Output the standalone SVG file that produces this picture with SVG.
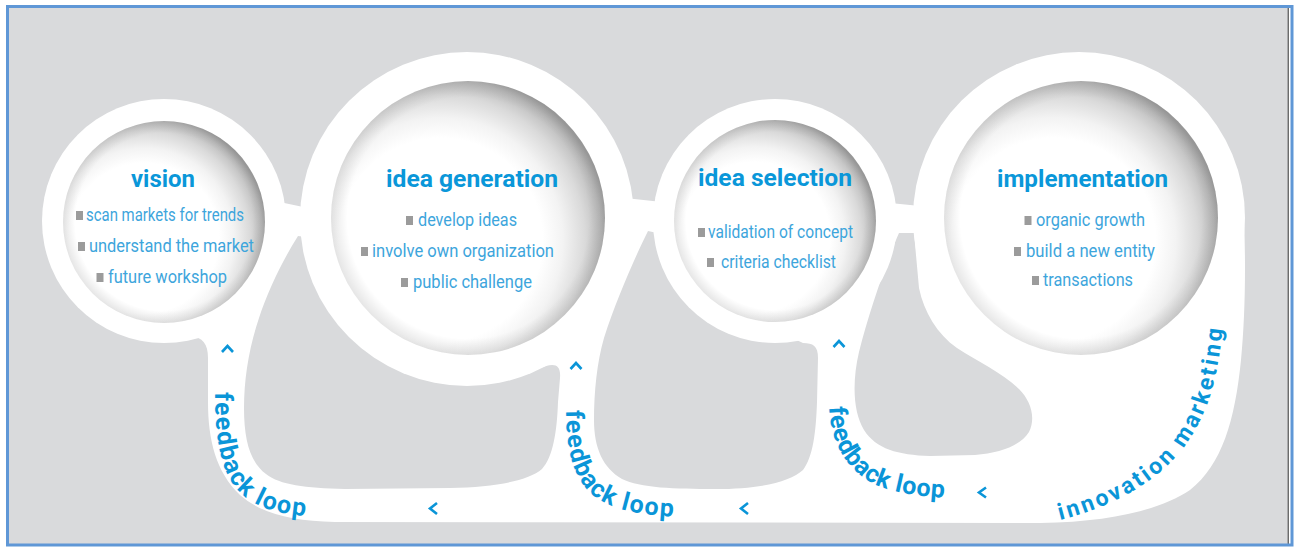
<svg xmlns="http://www.w3.org/2000/svg" width="1298" height="552" viewBox="0 0 1298 552">
<style>
.title{font-family:Roboto,'Liberation Sans',sans-serif;font-weight:700;font-size:23px;fill:#0a97d9;text-anchor:middle}
.item{font-family:Roboto,'Liberation Sans',sans-serif;font-size:19px;fill:#3da5dc}
.sq{fill:#9b9b9b}
.loop{font-family:Roboto,'Liberation Sans',sans-serif;font-weight:700;font-size:25px;letter-spacing:1.5px;fill:#0a95d8}
.chev{fill:none;stroke:#0a95d8;stroke-width:2.6;stroke-linejoin:miter}
.hole{fill:#d9dadc}
.white{fill:#ffffff}
.sphere{fill:url(#sph)}
.rim{fill:url(#rim)}
</style>
<defs>
<radialGradient id="sph" cx="0.4" cy="0.58" r="0.62">
<stop offset="0" stop-color="#ffffff"/>
<stop offset="0.6" stop-color="#ffffff"/>
<stop offset="0.72" stop-color="#f3f3f3"/>
<stop offset="0.85" stop-color="#dadada"/>
<stop offset="0.95" stop-color="#bdbdbd"/>
<stop offset="1" stop-color="#a6a6a6"/>
</radialGradient>
<radialGradient id="rim" cx="0.5" cy="0.5" r="0.5">
<stop offset="0.88" stop-color="#000" stop-opacity="0"/>
<stop offset="1" stop-color="#000" stop-opacity="0.1"/>
</radialGradient>
<path id="p1" d="M 215,392 C 215,446 222,478 245,497 C 262,510 285,516 330,518"/>
<path id="p2" d="M 566,410 C 566,455 575,485 600,500 C 620,512 645,516 695,518"/>
<path id="p3" d="M 829,407 C 830,440 845,468 872,483 C 890,492 915,497 965,499"/>
<path id="p4" d="M 1060,520 C 1120,505 1170,475 1195,430 C 1212,400 1220,370 1225,300"/>
</defs>
<rect x="0" y="0" width="1298" height="552" fill="#ffffff"/>
<rect x="8" y="8" width="1281" height="536" fill="#d9dadc"/>
<line x1="1288.2" y1="8" x2="1288.2" y2="544" stroke="#3a3a3a" stroke-width="1"/>
<rect x="7.5" y="6.5" width="1284.5" height="538.5" fill="none" stroke="#5f97d6" stroke-width="3"/>

<g id="connectors">
<path class="white" d="M 190,336 C 203,337 208,344 208,358 L 208,402 C 208,440 216,472 240,495 C 262,514 292,521 335,522 L 1040,523 C 1110,522 1160,510 1190,490 C 1222,465 1235,420 1241,360 C 1245,320 1246,270 1244,218 L 1079,218 L 164,221 Z"/>
<path class="hole" d="M 298,236 C 284,258 268,290 259,318 C 249,348 244,378 244,408 C 244,440 250,462 266,474 C 280,485 305,488 345,489 L 450,488 C 495,487 528,481 542,469 C 553,457 557,432 558,402 L 560,378 C 561,366 556,363 546,366 C 530,371 512,377 497,382 L 467,300 L 330,240 Z"/>
<path class="hole" d="M 648,231 C 636,255 616,300 604,338 C 597,362 594,392 594,420 C 594,448 603,468 622,479 C 640,488 675,489 715,489 C 760,489 790,482 803,470 C 813,457 816,432 817,402 L 818,358 C 818,346 813,343 803,343 L 775,330 L 690,240 Z"/>
<path class="hole" d="M 899,233 C 887,260 869,312 859,352 C 852,382 853,412 864,430 C 876,449 898,455 930,456 L 975,455 C 1000,453 1020,446 1029,432 C 1036,418 1031,401 1019,389 C 1003,373 978,362 957,348 C 937,334 924,312 919,288 L 914,233 Z"/>
<polygon class="white" points="270,200 308,208 308,234 270,240"/>
<polygon class="white" points="625,198 662,202 662,229 625,232"/>
<polygon class="white" points="890,203 920,206 920,231 890,233"/>
<text class="loop"><textPath href="#p1">feedback loop</textPath></text>
<text class="loop"><textPath href="#p2">feedback loop</textPath></text>
<text class="loop" style="letter-spacing:0.6px"><textPath href="#p3">feedback loop</textPath></text>
<text class="loop" style="font-size:23px;letter-spacing:2.8px"><textPath href="#p4">innovation marketing</textPath></text>
<path class="chev" d="M222,352 L227.5,346 L233,352"/>
<path class="chev" d="M570.5,369 L576,363 L581.5,369"/>
<path class="chev" d="M833.5,347 L839,341 L844.5,347"/>
<path class="chev" d="M437,503 L430,508.5 L437,514"/>
<path class="chev" d="M748,503 L741,508.5 L748,514"/>
<path class="chev" d="M986,487.5 L979,492.5 L986,497.5"/>
</g>

<g id="node-vision">
<circle class="white" cx="164" cy="221" r="122"/>
<circle class="sphere" cx="164" cy="222" r="101"/>
<circle class="rim" cx="164" cy="222" r="101"/>
<text class="title" x="163" y="187" textLength="64" lengthAdjust="spacingAndGlyphs">vision</text>
<rect class="sq" x="76" y="211" width="7" height="9"/>
<text class="item" x="86" y="221" textLength="158" lengthAdjust="spacingAndGlyphs">scan markets for trends</text>
<rect class="sq" x="78" y="242" width="7" height="9"/>
<text class="item" x="89" y="252" textLength="165" lengthAdjust="spacingAndGlyphs">understand the market</text>
<rect class="sq" x="96.5" y="273" width="7" height="9"/>
<text class="item" x="108" y="283" textLength="119" lengthAdjust="spacingAndGlyphs">future workshop</text>
</g>

<g id="node-idea-generation">
<circle class="white" cx="467" cy="219" r="167"/>
<circle class="sphere" cx="468" cy="218" r="137"/>
<circle class="rim" cx="468" cy="218" r="137"/>
<text class="title" x="472" y="187" textLength="172" lengthAdjust="spacingAndGlyphs">idea generation</text>
<rect class="sq" x="406" y="216" width="7" height="9"/>
<text class="item" x="418" y="226" textLength="99" lengthAdjust="spacingAndGlyphs">develop ideas</text>
<rect class="sq" x="361" y="247" width="7" height="9"/>
<text class="item" x="372" y="257" textLength="182" lengthAdjust="spacingAndGlyphs">involve own organization</text>
<rect class="sq" x="401" y="278" width="7" height="9"/>
<text class="item" x="413" y="288" textLength="119" lengthAdjust="spacingAndGlyphs">public challenge</text>
</g>

<g id="node-idea-selection">
<circle class="white" cx="775" cy="221" r="122"/>
<circle class="sphere" cx="775" cy="221" r="101"/>
<circle class="rim" cx="775" cy="221" r="101"/>
<text class="title" x="775" y="186" textLength="154" lengthAdjust="spacingAndGlyphs">idea selection</text>
<rect class="sq" x="698" y="228" width="7" height="9"/>
<text class="item" x="708" y="238" textLength="145" lengthAdjust="spacingAndGlyphs">validation of concept</text>
<rect class="sq" x="707" y="258" width="7" height="9"/>
<text class="item" x="721" y="268" textLength="115" lengthAdjust="spacingAndGlyphs">criteria checklist</text>
</g>

<g id="node-implementation">
<circle class="white" cx="1079" cy="218" r="166"/>
<circle class="sphere" cx="1081" cy="218" r="137"/>
<circle class="rim" cx="1081" cy="218" r="137"/>
<text class="title" x="1082.5" y="187" textLength="171" lengthAdjust="spacingAndGlyphs">implementation</text>
<rect class="sq" x="1024.5" y="216" width="7" height="9"/>
<text class="item" x="1036" y="226" textLength="109" lengthAdjust="spacingAndGlyphs">organic growth</text>
<rect class="sq" x="1014" y="247" width="7" height="9"/>
<text class="item" x="1026" y="257" textLength="129" lengthAdjust="spacingAndGlyphs">build a new entity</text>
<rect class="sq" x="1032" y="276" width="7" height="9"/>
<text class="item" x="1043" y="286" textLength="90" lengthAdjust="spacingAndGlyphs">transactions</text>
</g>
</svg>
